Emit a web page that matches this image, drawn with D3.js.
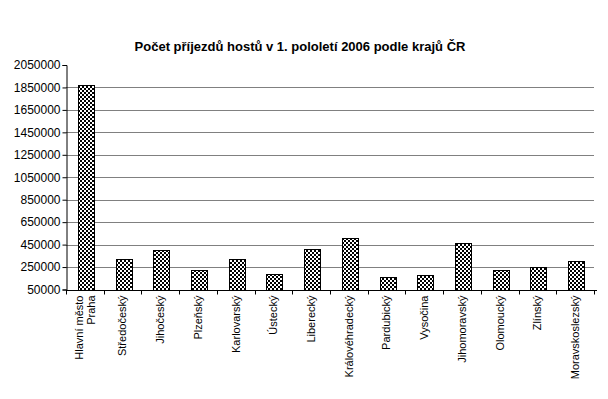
<!DOCTYPE html>
<html>
<head>
<meta charset="utf-8">
<script src="https://cdn.jsdelivr.net/npm/d3@7"></script>
<style>
  body { margin: 0; background: #fff; }
  text { font-family: Arial, "Liberation Sans", sans-serif; }
</style>
</head>
<body>
<div id="chart"></div>
<script>
const regions = ["Hlavní město Praha", "Středočeský", "Jihočeský", "Plzeňský", "Karlovarský",
    "Ústecký", "Liberecký", "Královéhradecký", "Pardubický", "Vysočina",
    "Jihomoravský", "Olomoucký", "Zlínský", "Moravskoslezský"];
const arrivals = [1871000, 319000, 402000, 224000, 319000, 188000, 411000,
    509000, 161000, 179000, 464000, 224000, 250000, 304000];
const yTicks = [50000, 250000, 450000, 650000, 850000, 1050000, 1250000,
    1450000, 1650000, 1850000, 2050000];
const title = "Počet příjezdů hostů v 1. pololetí 2006 podle krajů ČR";

const width = 608, height = 399;
const plotLeft = 66, plotRight = 594, plotTop = 65, plotBottom = 289.5;

const svg = d3.select("#chart").append("svg")
    .attr("width", width)
    .attr("height", height);

// checkered fill like the original
const pat = svg.append("defs").append("pattern")
    .attr("id", "checker")
    .attr("patternUnits", "userSpaceOnUse")
    .attr("width", 4).attr("height", 4);
pat.append("rect").attr("width", 4).attr("height", 4).attr("fill", "#fff");
pat.append("rect").attr("width", 2).attr("height", 2).attr("fill", "#000");
pat.append("rect").attr("x", 2).attr("y", 2).attr("width", 2).attr("height", 2).attr("fill", "#000");

const x = d3.scaleBand().domain(regions).range([plotLeft, plotRight]).padding(0);
const y = d3.scaleLinear().domain([50000, 2050000]).range([plotBottom, plotTop]);

svg.append("text")
    .attr("x", 300).attr("y", 51)
    .attr("text-anchor", "middle")
    .attr("font-size", 13).attr("font-weight", "bold")
    .text(title);

// gridlines
svg.append("g")
    .selectAll("line")
    .data(yTicks.slice(1, -1))
    .enter().append("line")
    .attr("x1", plotLeft).attr("x2", plotRight)
    .attr("y1", d => Math.round(y(d)) + 0.5)
    .attr("y2", d => Math.round(y(d)) + 0.5)
    .attr("stroke", "#808080");

// bars
const bw = 16;
svg.append("g")
    .selectAll("rect")
    .data(arrivals)
    .enter().append("rect")
    .attr("x", (d, i) => Math.round(x(regions[i]) + (x.bandwidth() - bw) / 2 + 1) + 0.5)
    .attr("y", d => Math.round(y(d)) + 0.5)
    .attr("width", bw)
    .attr("height", d => Math.round(plotBottom) - Math.round(y(d)))
    .attr("fill", "url(#checker)")
    .attr("stroke", "#000");

// y axis
const yAxis = svg.append("g")
    .attr("transform", `translate(${plotLeft + 0.5},0)`)
    .call(d3.axisLeft(y).tickValues(yTicks).tickSize(4).tickPadding(2).tickFormat(d3.format("d")));
yAxis.selectAll("text").attr("font-size", 12).attr("fill", "#000").attr("font-family", "Arial, 'Liberation Sans', sans-serif");
yAxis.selectAll("line, path").attr("stroke", "#000");

// x axis with ticks between categories
const xAxis = svg.append("g").attr("transform", `translate(0,${Math.round(plotBottom) + 0.5})`);
xAxis.append("line").attr("x1", plotLeft).attr("x2", plotRight + 3).attr("stroke", "#000");
xAxis.selectAll("line.tick")
    .data(d3.range(regions.length + 1))
    .enter().append("line")
    .attr("class", "tick")
    .attr("x1", i => Math.round(plotLeft + i * x.step()) + 0.5)
    .attr("x2", i => Math.round(plotLeft + i * x.step()) + 0.5)
    .attr("y1", 0).attr("y2", 4)
    .attr("stroke", "#000");

const labels = svg.append("g");
regions.forEach(r => {
    const cx = x(r) + x.bandwidth() / 2;
    const t = labels.append("text")
        .attr("transform", `translate(${cx},${plotBottom + 6}) rotate(-90)`)
        .attr("text-anchor", "end")
        .attr("font-size", 11);
    if (r === "Hlavní město Praha") {
        t.append("tspan").attr("x", 0).attr("dy", "-0.2em").text("Hlavní město");
        t.append("tspan").attr("x", 0).attr("dy", "1.1em").text("Praha");
    } else {
        t.attr("dy", "0.35em").text(r);
    }
});
</script>
</body>
</html>
